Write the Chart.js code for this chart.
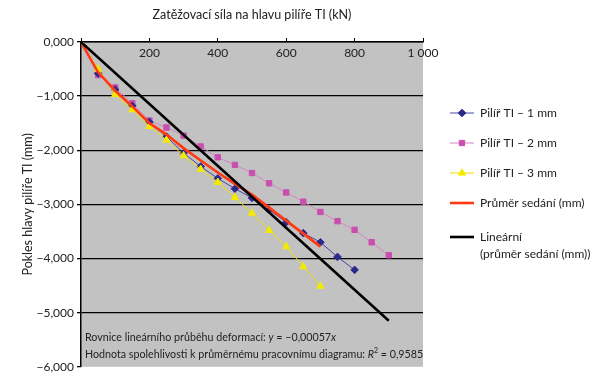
<!DOCTYPE html>
<html>
<head>
<meta charset="utf-8">
<script src="https://cdn.jsdelivr.net/npm/chart.js@4"></script>
<style>
  body { margin: 0; background: #fff; }
  #wrap { width: 600px; height: 377px; }
</style>
</head>
<body>
<div id="wrap"><canvas id="chart"></canvas></div>
<script>
// Loads in kN (x) and settlement in mm (y)
const loads = [0, 50, 100, 150, 200, 250, 300, 350, 400, 450, 500, 550, 600, 650, 700, 750, 800, 850, 900];
const pilir1 = [0, -0.58, -0.88, -1.18, -1.48, -1.75, -2.05, -2.30, -2.52, -2.71, -2.88, -3.10, -3.33, -3.53, -3.70, -3.97, -4.21];
const pilir2 = [0, -0.61, -0.84, -1.13, -1.45, -1.58, -1.73, -1.93, -2.13, -2.27, -2.42, -2.61, -2.78, -2.95, -3.14, -3.31, -3.47, -3.70, -3.94];
const pilir3 = [0, -0.50, -0.97, -1.25, -1.56, -1.81, -2.10, -2.35, -2.59, -2.87, -3.16, -3.48, -3.78, -4.15, -4.51];
const prumer = [0, -0.56, -0.90, -1.19, -1.50, -1.71, -1.96, -2.19, -2.41, -2.62, -2.82, -3.06, -3.30, -3.54, -3.78];
const linearX = [0, 900];
const linearY = [0, -5.15];
const xTicks = [0, 200, 400, 600, 800, 1000];
const yTicks = [0, -1, -2, -3, -4, -5, -6];

const FONT = 'Lato';

function pts(xs, ys) {
  return ys.map((y, i) => ({ x: xs[i], y: y }));
}

const fmtY = v => (v < 0 ? '\u2212' : '') + Math.abs(v).toFixed(3).replace('.', ',');
const fmtX = v => v === 0 ? '' : (v >= 1000 ? String(v).replace(/(\d)(\d{3})$/, '$1 $2') : String(v));

const series = [
  { label: 'Pilíř TI – 1 mm', data: pts(loads, pilir1), borderColor: '#4646a8', pointBackgroundColor: '#2a2a8c', pointBorderColor: '#2a2a8c', pointStyle: 'rectRot', pointRadius: 3.8, borderWidth: 1, order: 3 },
  { label: 'Pilíř TI – 2 mm', data: pts(loads, pilir2), borderColor: '#d684c8', pointBackgroundColor: '#c94fae', pointBorderColor: '#c94fae', pointStyle: 'rect', pointRadius: 3.8, borderWidth: 1, order: 4 },
  { label: 'Pilíř TI – 3 mm', data: pts(loads, pilir3), borderColor: '#eee000', pointBackgroundColor: '#f4ea00', pointBorderColor: '#f4ea00', pointStyle: 'triangle', pointRadius: 4.2, borderWidth: 1, order: 2 },
  { label: 'Průměr sedání (mm)', data: pts(loads, prumer), borderColor: '#ff3a12', pointRadius: 0, borderWidth: 2.6, order: 1 },
  { label: ['Lineární', '(průměr sedání (mm))'], data: pts(linearX, linearY), borderColor: '#000', pointRadius: 0, borderWidth: 2.6, order: 0 }
];

const bgPlugin = {
  id: 'plotBg',
  beforeDraw(chart) {
    const a = chart.chartArea, c = chart.ctx;
    c.save();
    c.fillStyle = '#c2c2c2';
    c.fillRect(a.left, a.top, a.right - a.left, a.bottom - a.top);
    c.restore();
  }
};

function drawRuns(c, x, y, runs) {
  runs.forEach(r => {
    c.font = (r.italic ? 'italic ' : '') + (r.size || 10.7) + 'px ' + FONT;
    c.fillText(r.t, x, y + (r.dy || 0));
    x += c.measureText(r.t).width;
  });
}

const notePlugin = {
  id: 'note',
  afterDatasetsDraw(chart) {
    const c = chart.ctx, a = chart.chartArea;
    c.save();
    c.fillStyle = '#222';
    c.textBaseline = 'middle';
    drawRuns(c, a.left + 4, 338, [
      { t: 'Rovnice lineárního průběhu deformací: ' },
      { t: 'y', italic: true },
      { t: ' = \u22120,00057' },
      { t: 'x', italic: true }
    ]);
    drawRuns(c, a.left + 4, 355, [
      { t: 'Hodnota spolehlivosti k průměrnému pracovnímu diagramu: ' },
      { t: 'R', italic: true },
      { t: '2', size: 7, dy: -4 },
      { t: ' = 0,9585' }
    ]);
    c.restore();
  }
};

const legendPlugin = {
  id: 'sideLegend',
  afterDraw(chart) {
    const c = chart.ctx;
    const rows = [113, 143, 173, 203, 237];
    c.save();
    c.font = '12px ' + FONT;
    c.textBaseline = 'middle';
    chart.data.datasets.forEach((ds, i) => {
      const y = rows[i];
      c.strokeStyle = ds.borderColor;
      c.lineWidth = ds.borderWidth;
      c.beginPath();
      c.moveTo(450, y);
      c.lineTo(474, y);
      c.stroke();
      if (ds.pointRadius) {
        c.fillStyle = ds.pointBackgroundColor;
        c.strokeStyle = ds.pointBorderColor;
        c.lineWidth = 1;
        Chart.helpers.drawPoint(c, { pointStyle: ds.pointStyle, radius: ds.pointRadius, borderWidth: 1 }, 462, y);
      }
      c.fillStyle = '#222';
      const lines = Array.isArray(ds.label) ? ds.label : [ds.label];
      lines.forEach((t, k) => c.fillText(t, 480, y + k * 17));
    });
    c.restore();
  }
};

new Chart(document.getElementById('chart'), {
  type: 'line',
  data: { datasets: series },
  plugins: [bgPlugin, notePlugin, legendPlugin],
  options: {
    responsive: true,
    maintainAspectRatio: false,
    animation: false,
    layout: { padding: { left: 0, right: 177, top: 0, bottom: 10 } },
    plugins: { legend: { display: false }, tooltip: { enabled: false } },
    elements: { line: { tension: 0 } },
    scales: {
      x: {
        type: 'linear',
        position: 'top',
        min: 0,
        max: 1000,
        afterBuildTicks: s => { s.ticks = xTicks.map(v => ({ value: v })); },
        afterFit: s => { s.height = 42; },
        ticks: { callback: fmtX, color: '#222', font: { family: FONT, size: 12 }, mirror: true, padding: 4, maxRotation: 0, autoSkip: false },
        grid: { drawOnChartArea: false, drawTicks: true, tickLength: 4, color: '#000', lineWidth: 1 },
        border: { display: true, color: '#000', width: 1.5 },
        title: { display: true, text: 'Zatěžovací síla na hlavu pilíře TI (kN)', color: '#222', font: { family: FONT, size: 12.5 }, padding: { top: 7, bottom: 0 } }
      },
      y: {
        type: 'linear',
        min: -6,
        max: 0,
        afterBuildTicks: s => { s.ticks = yTicks.map(v => ({ value: v })); },
        afterFit: s => { s.width = 81; },
        ticks: { callback: fmtY, color: '#222', font: { family: FONT, size: 12 }, padding: 3 },
        grid: { color: ctx => (ctx.tick && ctx.tick.value === -6) ? 'rgba(0,0,0,0)' : '#000', tickColor: '#000', lineWidth: 1.3, tickLength: 4 },
        border: { display: true, color: '#000', width: 1.5 },
        title: { display: true, text: 'Pokles hlavy pilíře TI (mm)', color: '#222', font: { family: FONT, size: 12.5 }, padding: { top: 20, bottom: 0 } }
      }
    }
  }
});
</script>
</body>
</html>
